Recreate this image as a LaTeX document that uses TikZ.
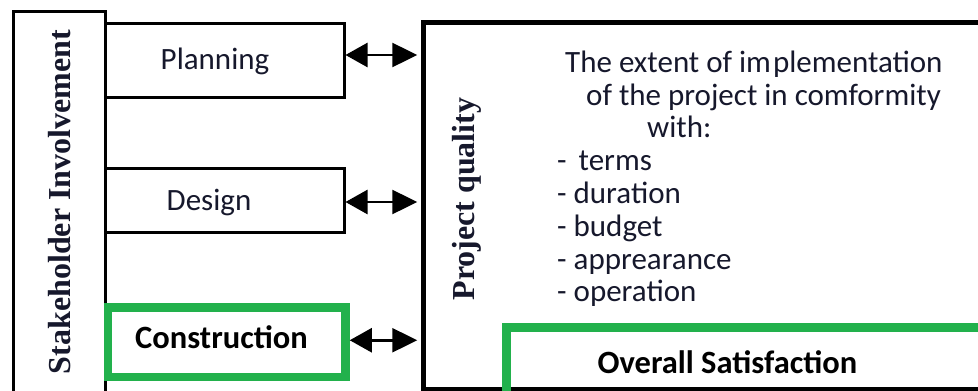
\documentclass[tikz,border=0pt]{standalone}
\usepackage{fontspec}
\setmainfont{Carlito}
\newfontfamily\serifb{Liberation Serif}
\usetikzlibrary{arrows.meta}
\definecolor{txt}{HTML}{16182C}
\definecolor{grn}{HTML}{22B14C}
\begin{document}
\begin{tikzpicture}[x=1pt,y=-1pt,
  box/.style={draw=black, line width=3pt, inner sep=0pt},
  gbox/.style={draw=grn, line width=8.5pt, inner sep=0pt},
  lbl/.style={font=\fontsize{31}{36}\selectfont, text=txt, inner sep=0pt},
  blbl/.style={font=\fontsize{32.5}{36}\selectfont\bfseries, text=black, inner sep=0pt},
  vlbl/.style={font=\serifb\fontsize{32}{36}\selectfont\bfseries, text=txt, rotate=90, inner sep=0pt},
  body/.style={font=\fontsize{31}{34}\selectfont, text=txt, anchor=base west, inner sep=0pt},
  dbl/.style={{Triangle[length=22pt,width=24pt]}-{Triangle[length=25pt,width=24pt]}, line width=2.5pt, shorten >=4pt}
]
\clip (0,0) rectangle (978,391);
\fill[white] (0,0) rectangle (978,391);

% left column
\node[box, minimum width=92pt, minimum height=389pt] (sh) at (59,205.5) {};
\node[vlbl] (shtext) at (60,202) {Stakeholder Involvement};

% stage boxes
\node[box, minimum width=239pt, minimum height=74pt] (plan) at (224.5,60) {};
\node[lbl] (planlbl) at (215,61) {Planning};
\node[box, minimum width=239pt, minimum height=64pt] (des) at (224.5,200) {};
\node[lbl] (deslbl) at (209,202) {Design};
\node[gbox, minimum width=237.5pt, minimum height=69.5pt] (con) at (226.75,342.25) {};
\node[blbl] (conlbl) at (221.5,337.5) {Construction};

% project quality box
\node[draw=black, line width=4.5pt, minimum width=576.5pt, minimum height=366.5pt, inner sep=0pt] (pq) at (711.75,205.75) {};
\node[vlbl] (pqtext) at (467,199) {Project quality};

\node[body] (t1) at (565,72) {The extent of im\hspace{2pt}plementation};
\node[body] (t2) at (586,105) {of the project in comformity};
\node[body] (t3) at (647,137) {with:};
\node[body] (t4) at (557,170) {-\hspace{12pt}terms};
\node[body] (t5) at (557,203) {- duration};
\node[body] (t6) at (557,236) {- budget};
\node[body] (t7) at (557,269) {- apprearance};
\node[body] (t8) at (557,301) {- operation};

% overall satisfaction
\node[gbox, minimum width=493.5pt, minimum height=92.5pt] (os) at (753.25,373.75) {};
\node[blbl] (oslbl) at (727.5,362.5) {Overall Satisfaction};

% arrows
\draw[dbl] ([yshift=5pt]plan.east) -- ([yshift=5pt]plan.east -| pq.west);
\draw[dbl] ([yshift=-2pt]des.east) -- ([yshift=-2pt]des.east -| pq.west);
\draw[dbl] ([yshift=2pt]con.east) -- ([yshift=2pt]con.east -| pq.west);
\end{tikzpicture}
\end{document}
